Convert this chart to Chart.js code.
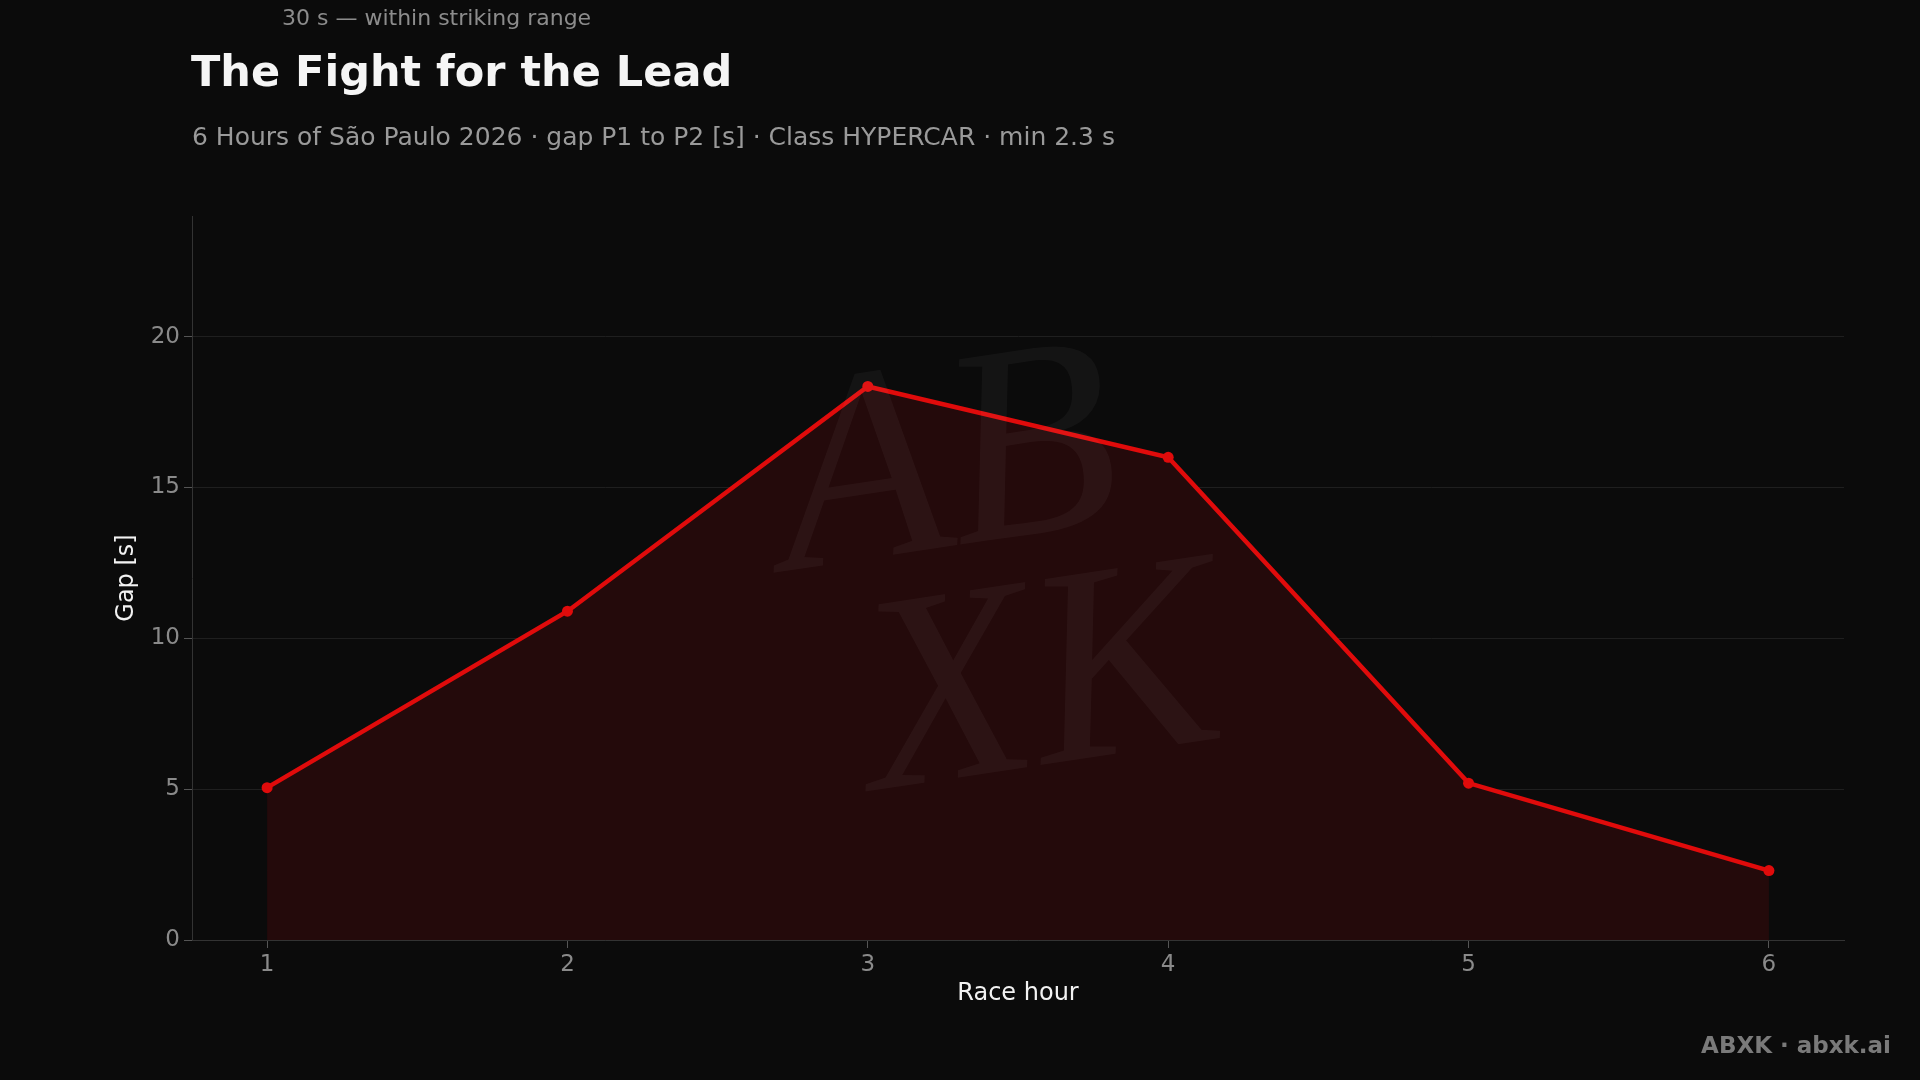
<!DOCTYPE html>
<html>
<head>
<meta charset="utf-8">
<script src="https://cdn.jsdelivr.net/npm/chart.js@4/dist/chart.umd.min.js"></script>
<style>
  html, body { margin: 0; padding: 0; background: #0b0b0b; }
  #wrap { position: relative; width: 1920px; height: 1080px; font-family: "DejaVu Sans", sans-serif; }
  #grafico { position: absolute; left: 0; top: 0; }
  .txt { position: absolute; white-space: nowrap; line-height: normal; }
  #nota { left: 282px; top: 5px; font-size: 22px; color: #8c8c8c; }
  #titulo { left: 191px; top: 46px; font-size: 43px; font-weight: bold; color: #f5f5f5; }
  #subtitulo { left: 192px; top: 122px; font-size: 25px; color: #9a9a9a; }
  #firma { right: 29px; top: 1032px; font-size: 23px; font-weight: bold; color: #7a7a7a; }
</style>
</head>
<body>
<div id="wrap">
  <canvas id="grafico" width="1920" height="1080"></canvas>
  <div class="txt" id="nota">30 s — within striking range</div>
  <div class="txt" id="titulo">The Fight for the Lead</div>
  <div class="txt" id="subtitulo">6 Hours of São Paulo 2026 · gap P1 to P2 [s] · Class HYPERCAR · min 2.3 s</div>
  <div class="txt" id="firma">ABXK · abxk.ai</div>
</div>
<script>
// Datos de la gráfica: hora de carrera y diferencia P1-P2
const raceHours = [1, 2, 3, 4, 5, 6];
const gapSeconds = [5.05, 10.9, 18.35, 16.0, 5.2, 2.3];
const yTicks = [0, 5, 10, 15, 20];

// Marca de agua tenue dentro del área del gráfico
const watermark = {
    id: 'watermark',
    afterDatasetsDraw(chart) {
        const {ctx, chartArea} = chart;
        const cx = (chartArea.left + chartArea.right) / 2;
        const cy = (chartArea.top + chartArea.bottom) / 2;
        ctx.save();
        ctx.fillStyle = 'rgba(255, 255, 255, 0.04)';
        ctx.font = 'italic 280px "Liberation Serif"';
        ctx.textAlign = 'center';
        ctx.textBaseline = 'middle';
        ctx.translate(cx - 35, cy);
        ctx.rotate(-0.15);
        ctx.fillText('AB', -20, -110);
        ctx.fillText('XK', 40, 120);
        ctx.restore();
    }
};

const ctx = document.getElementById('grafico').getContext('2d');

const chart = new Chart(ctx, {
    type: 'line',
    data: {
        datasets: [{
            label: 'Gap [s]',
            data: raceHours.map((h, i) => ({x: h, y: gapSeconds[i]})),
            borderColor: '#e00b0b',
            backgroundColor: '#240a0b',
            borderWidth: 4.5,
            pointRadius: 5.5,
            pointBackgroundColor: '#e00b0b',
            pointBorderWidth: 0,
            fill: 'origin',
            tension: 0
        }]
    },
    options: {
        responsive: false,
        animation: false,
        layout: { padding: { top: 216, right: 76, left: 0, bottom: 0 } },
        plugins: {
            legend: { display: false },
            tooltip: { enabled: false }
        },
        scales: {
            x: {
                type: 'linear',
                min: 0.75,
                max: 6.25,
                afterBuildTicks: scale => { scale.ticks = raceHours.map(v => ({value: v})); },
                afterFit: scale => { scale.height = 140; },
                grid: { drawOnChartArea: false, tickLength: 8, tickColor: '#555' },
                border: { color: '#333', width: 1 },
                ticks: { color: '#8a8a8a', font: { family: 'DejaVu Sans', size: 23 }, padding: 3 },
                title: {
                    display: true, text: 'Race hour', color: '#f2f2f2',
                    font: { family: 'DejaVu Sans', size: 24 },
                    padding: { top: 0, bottom: 72 }
                }
            },
            y: {
                min: 0,
                max: 24,
                afterBuildTicks: scale => { scale.ticks = yTicks.map(v => ({value: v})); },
                afterFit: scale => { scale.width = 192; },
                grid: { color: '#1f1f1f', tickLength: 8, tickColor: '#555' },
                border: { color: '#333', width: 1 },
                ticks: { color: '#8a8a8a', font: { family: 'DejaVu Sans', size: 23 }, padding: 4 },
                title: {
                    display: true, text: 'Gap [s]', color: '#f2f2f2',
                    font: { family: 'DejaVu Sans', size: 24 },
                    padding: { top: 112, bottom: 0 }
                }
            }
        }
    },
    plugins: [watermark]
});
</script>
</body>
</html>
